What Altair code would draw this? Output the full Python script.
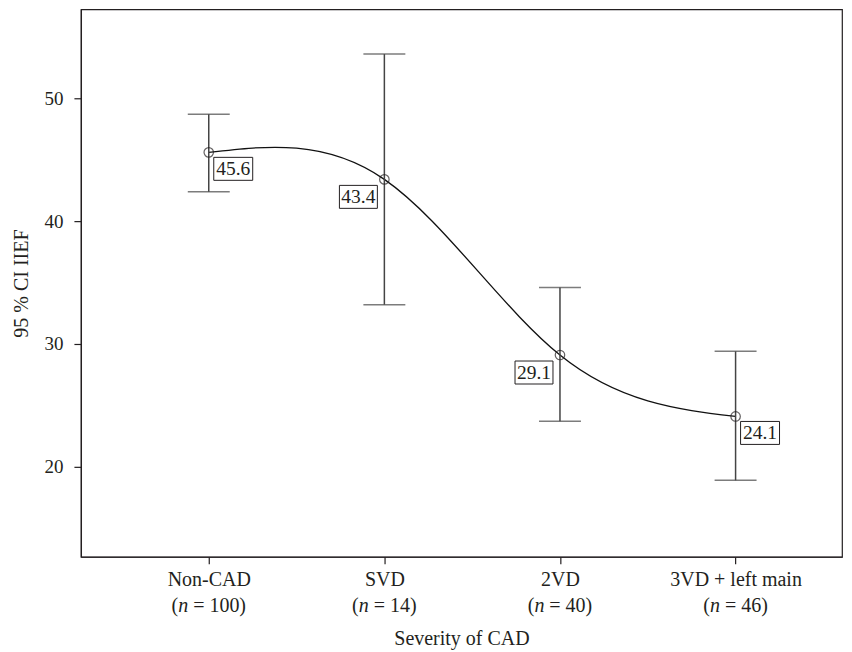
import json
import altair as alt
import pandas as pd

# ---- data ----
categories = ["Non-CAD", "SVD", "2VD", "3VD + left main"]
n_values = [100, 14, 40, 46]
means = [45.6, 43.4, 29.1, 24.1]
lower = [42.4, 33.2, 23.7, 18.9]
upper = [48.7, 53.6, 34.6, 29.4]
labels_right = ["Non-CAD", "3VD + left main"]   # value box drawn to the right of the point
labels_left = ["SVD", "2VD"]                     # value box drawn to the left of the point
y_ticks = [20, 30, 40, 50]

df = pd.DataFrame({
    "idx": list(range(len(categories))),
    "cat": categories,
    "n": n_values,
    "mean": means,
    "lo": lower,
    "hi": upper,
})
df["ndig"] = df["n"].astype(str).str.len()

FONT = "Liberation Serif"
INK = "#231f20"
FS = 20
NBSP = "\u00a0"

xscale = alt.Scale(domain=[-0.728, 3.606], nice=False, zero=False)
yscale = alt.Scale(domain=[12.68, 57.24], nice=False, zero=False)

label_expr = json.dumps(categories) + "[datum.value]"

X = alt.X("idx:Q", scale=xscale, title="Severity of CAD",
          axis=alt.Axis(values=list(range(len(categories))), labelExpr=label_expr,
                        grid=False, tickSize=7, labelPadding=6, titlePadding=39,
                        labelFontSize=FS, titleFontSize=FS))
YT = "95 % CI IIEF"
yaxis = alt.Axis(values=y_ticks, grid=False, tickSize=7, labelPadding=11,
                 titlePadding=12, labelFontSize=19, titleFontSize=FS)

def Y(field):
    return alt.Y(field, scale=yscale, title=YT, axis=yaxis)

base = alt.Chart(df)

curve = base.mark_line(interpolate="natural", color="#111", strokeWidth=1.3).encode(
    x=X, y=Y("mean:Q"))

rule = base.mark_rule(color="#444", strokeWidth=1.5).encode(
    x=X, y=Y("lo:Q"), y2="hi:Q")

cap_lo = base.mark_tick(orient="horizontal", size=42, thickness=1.5, color="#444").encode(
    x=X, y=Y("lo:Q"))
cap_hi = base.mark_tick(orient="horizontal", size=42, thickness=1.5, color="#444").encode(
    x=X, y=Y("hi:Q"))

pts = base.mark_point(shape="circle", filled=False, size=90, color=INK, strokeWidth=1.2).encode(
    x=X, y=Y("mean:Q"))

def value_box(cats, x0, x1, y0, y1):
    sub = base.transform_filter(alt.FieldOneOfPredicate(field="cat", oneOf=cats))
    box = sub.mark_rect(fill="white", stroke=INK, strokeWidth=1,
                        xOffset=x0, x2Offset=x1, yOffset=y0, y2Offset=y1).encode(
        x=X, x2="idx:Q", y=Y("mean:Q"), y2="mean:Q")
    txt = sub.mark_text(dx=(x0 + x1) / 2, dy=(y0 + y1) / 2 + 0.5, align="center",
                        baseline="middle", font=FONT, fontSize=19.5, color=INK).encode(
        x=X, y=Y("mean:Q"), text=alt.Text("mean:Q", format=".1f"))
    return box + txt

box_r = value_box(labels_right, 5, 44, 5, 28)
box_l = value_box(labels_left, -45, -7, 6, 29)

# second line of x labels: "(n = 100)" with italic n
LINE2_Y = 597
W_PAREN, W_N, W_GAP, W_FIXED, W_DIGIT = 6.66, 10.0, 5.0, 22.9, 10.0

def n_label_layers(ndig):
    sub = base.transform_filter(alt.datum.ndig == ndig).transform_calculate(
        rest=f"'={NBSP}' + datum.n + ')'")
    total = W_PAREN + W_N + W_GAP + W_FIXED + W_DIGIT * ndig
    start = -total / 2
    common = dict(baseline="middle", font=FONT, fontSize=FS, color=INK)
    p = sub.mark_text(align="right", dx=start + W_PAREN, **common).encode(
        x=X, y=alt.value(LINE2_Y), text=alt.value("("))
    n = sub.mark_text(align="left", dx=start + W_PAREN, fontStyle="italic", **common).encode(
        x=X, y=alt.value(LINE2_Y), text=alt.value("n"))
    r = sub.mark_text(align="left", dx=start + W_PAREN + W_N + W_GAP, **common).encode(
        x=X, y=alt.value(LINE2_Y), text="rest:N")
    return [p, n, r]

nlayers = []
for d in sorted(df["ndig"].unique()):
    nlayers += n_label_layers(int(d))

chart = alt.layer(curve, rule, cap_lo, cap_hi, pts, box_r, box_l, *nlayers).properties(
    width=762, height=548,
    autosize=alt.AutoSizeParams(type="none"),
    padding={"left": 73, "top": 1, "right": 2, "bottom": 95},
).configure_view(stroke=INK, strokeWidth=1.2).configure_axis(
    labelFont=FONT, titleFont=FONT, labelColor=INK, titleColor=INK,
    titleFontWeight="normal", domainColor=INK, tickColor=INK, domainWidth=1.2, tickWidth=1.2,
)

chart.save("out.html", embed_options={"renderer": "svg", "actions": False})
